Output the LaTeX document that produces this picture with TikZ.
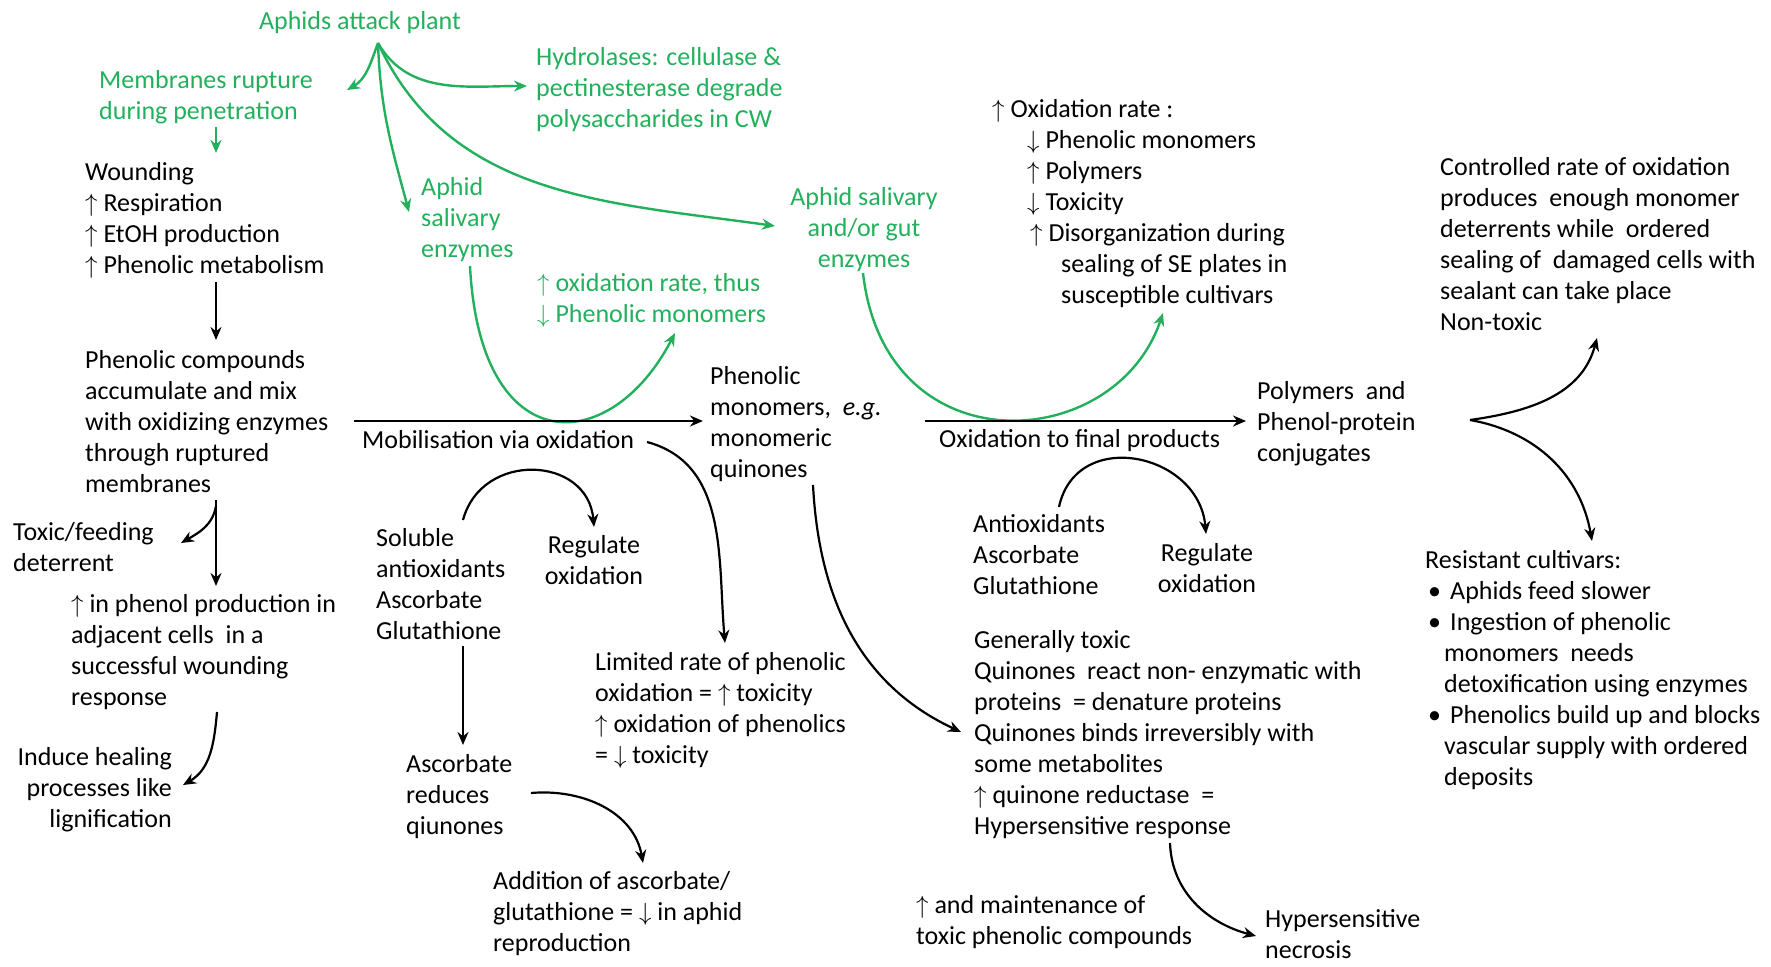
\documentclass[tikz,border=0pt]{standalone}
\usepackage{fontspec}
\setmainfont{Carlito}
\usetikzlibrary{arrows.meta}
\definecolor{gr}{RGB}{34,176,92}
\newcommand\UP{\ensuremath{\uparrow}}
\newcommand\DN{\ensuremath{\downarrow}}
\tikzset{
 txt/.style={font=\fontsize{26}{31}\selectfont, inner sep=0pt, align=left, execute at begin node=\strut, anchor=north west},
 gtxt/.style={txt, text=gr},
 barr/.style={draw=black, line width=2.2pt, -{Stealth[length=13pt,width=11pt]}},
 garr/.style={draw=gr, line width=2.4pt, -{Stealth[length=13pt,width=11pt]}},
}
\begin{document}
\begin{tikzpicture}[x=1pt,y=-1pt]
\useasboundingbox (0,0) rectangle (1771,966);
% ---------- green texts
\node[gtxt, anchor=north] (aph) at (360,8) {Aphids attack plant};
\node[gtxt] (memb) at (99,70) {Membranes rupture\\during penetration};
\node[gtxt] (hyd) at (536,47) {Hydrolases: cellulase \&\\pectinesterase degrade\\polysaccharides in CW};
\node[gtxt] (asal) at (421,177) {Aphid\\salivary\\enzymes};
\node[gtxt] (oxr) at (537,273) {\UP\ oxidation rate, thus\\\DN\ Phenolic monomers};
\node[gtxt, align=center, anchor=north] (agut) at (864,187) {Aphid salivary\\and/or gut\\enzymes};
% ---------- black texts
\node[txt] (wound) at (85,162) {Wounding\\\UP\ Respiration\\\UP\ EtOH production\\\UP\ Phenolic metabolism};
\node[txt] (phc) at (85,350) {Phenolic compounds\\accumulate and mix\\with oxidizing enzymes\\through ruptured\\membranes};
\node[txt] (mobl) at (362,427) {Mobilisation via oxidation};
\node[txt] (phm) at (710,366) {Phenolic\\monomers,\ \ \textit{e.g.}\\monomeric\\quinones};
\node[txt] (oxf) at (939,426) {Oxidation to final products};
\node[txt] (poly) at (1257,381) {Polymers\ \ and\\Phenol-protein\\conjugates};
\node[txt] (ctrl) at (1440,157) {Controlled rate of oxidation\\produces\ \ enough monomer\\deterrents while\ \ ordered\\sealing of\ \ damaged cells with\\sealant can take place\\Non-toxic};
\node[txt] (oxrate) at (992,99) {\UP\ Oxidation rate :\\\hspace*{35pt}\DN\ Phenolic monomers\\\hspace*{35pt}\UP\ Polymers\\\hspace*{35pt}\DN\ Toxicity\\\hspace*{38pt}\UP\ Disorganization during\\\hspace*{69pt}sealing of SE plates in\\\hspace*{69pt}susceptible cultivars};
\node[txt] (res) at (1425,550) {Resistant cultivars:\\\makebox[25pt][l]{\hspace{3pt}\textbullet}Aphids feed slower\\\makebox[25pt][l]{\hspace{3pt}\textbullet}Ingestion of phenolic\\\hspace*{19pt}monomers\ \ needs\\\hspace*{19pt}detoxification using enzymes\\\makebox[25pt][l]{\hspace{3pt}\textbullet}Phenolics build up and blocks\\\hspace*{19pt}vascular supply with ordered\\\hspace*{19pt}deposits};
\node[txt] (toxic) at (13,522) {Toxic/feeding\\deterrent};
\node[txt] (inc) at (71,594) {\UP\ in phenol production in\\adjacent cells\ \ in a\\successful wounding\\response};
\node[txt, align=right, anchor=north east] (ind) at (172,747) {Induce healing\\processes like\\lignification};
\node[txt] (sol) at (376,528) {Soluble\\antioxidants\\Ascorbate\\Glutathione};
\node[txt, align=center, anchor=north] (reg1) at (594,535) {Regulate\\oxidation};
\node[txt] (asc) at (406,754) {Ascorbate\\reduces\\qiunones};
\node[txt] (add) at (493,871) {Addition of ascorbate/\\glutathione = \DN\ in aphid\\reproduction};
\node[txt] (lim) at (595,652) {Limited rate of phenolic\\oxidation = \UP\ toxicity\\\UP\ oxidation of phenolics\\= \DN\ toxicity};
\node[txt] (anti) at (973,514) {Antioxidants\\Ascorbate\\Glutathione};
\node[txt, align=center, anchor=north] (reg2) at (1207,543) {Regulate\\oxidation};
\node[txt] (gen) at (974,630) {Generally toxic\\Quinones\ \ react non- enzymatic with\\proteins\ \ = denature proteins\\Quinones binds irreversibly with\\some metabolites\\\UP\ quinone reductase\ \ =\\Hypersensitive response};
\node[txt] (maint) at (916,895) {\UP\ and maintenance of\\toxic phenolic compounds};
\node[txt] (hyp) at (1265,909) {Hypersensitive\\necrosis};
% ---------- coordinates
\coordinate (apex) at (378,43);
\coordinate (aMem) at (347,90);
\coordinate (aHyd) at (527,86);
\coordinate (aSal) at (409,212);
\coordinate (aGut) at (775,226);
\coordinate (mdS) at (216,127);
\coordinate (mdE) at (216,153);
\coordinate (wS) at (216,282);
\coordinate (wE) at (216,340);
\coordinate (m1S) at (354,421);
\coordinate (m1E) at (703,421);
\coordinate (m2S) at (925,421);
\coordinate (m2E) at (1246,421);
\coordinate (fork) at (1470,420);
\coordinate (fUp) at (1597,338);
\coordinate (fDn) at (1592,541);
\coordinate (pS) at (216,500);
\coordinate (pE) at (216,586);
\coordinate (tS) at (216,506);
\coordinate (tE) at (181,543);
\coordinate (hS) at (217,712);
\coordinate (hE) at (183,785);
\coordinate (s1S) at (463,520);
\coordinate (s1E) at (594,527);
\coordinate (sdS) at (463,646);
\coordinate (sdE) at (463,745);
\coordinate (acS) at (531,793);
\coordinate (acE) at (643,863);
\coordinate (mbS) at (647,442);
\coordinate (mbE) at (725,643);
\coordinate (qS) at (813,485);
\coordinate (qE) at (961,732);
\coordinate (a2S) at (1059,507);
\coordinate (a2E) at (1206,534);
\coordinate (hyS) at (1170,843);
\coordinate (hyE) at (1256,936);
\coordinate (u1S) at (470,266);
\coordinate (u1E) at (675,333);
\coordinate (u2S) at (863,273);
\coordinate (u2E) at (1163,313);
% ---------- green connectors
\draw[garr] (apex) to[out=-110,in=30] (aMem);
\draw[garr] (apex) to[out=-60,in=180] (aHyd);
\draw[garr] (apex) to[out=-88,in=105] (aSal);
\draw[garr] (apex) to[out=-65,in=172] (aGut);
\draw[garr] (mdS) -- (mdE);
\draw[garr] (u1S) .. controls (480,462) and (610,458) .. (u1E);
\draw[garr] (u2S) .. controls (885,468) and (1115,455) .. (u2E);
% ---------- black connectors
\draw[barr] (wS) -- (wE);
\draw[barr, line width=2.6pt] (m1S) -- (m1E);
\draw[barr, line width=2.6pt] (m2S) -- (m2E);
\draw[barr] (fork) to[out=8,in=-105] (fUp);
\draw[barr] (fork) to[out=-10,in=100] (fDn);
\draw[barr] (pS) -- (pE);
\draw[barr] (tS) to[out=-100,in=30] (tE);
\draw[barr] (hS) to[out=-95,in=30] (hE);
\draw[barr] (s1S) to[out=75,in=95,looseness=1.4] (s1E);
\draw[barr] (sdS) -- (sdE);
\draw[barr] (acS) to[out=5,in=100] (acE);
\draw[barr] (mbS) to[out=-15,in=95] (mbE);
\draw[barr] (qS) to[out=-87,in=155] (qE);
\draw[barr] (a2S) to[out=78,in=95,looseness=1.4] (a2E);
\draw[barr] (hyS) to[out=-88,in=165] (hyE);
\end{tikzpicture}
\end{document}
